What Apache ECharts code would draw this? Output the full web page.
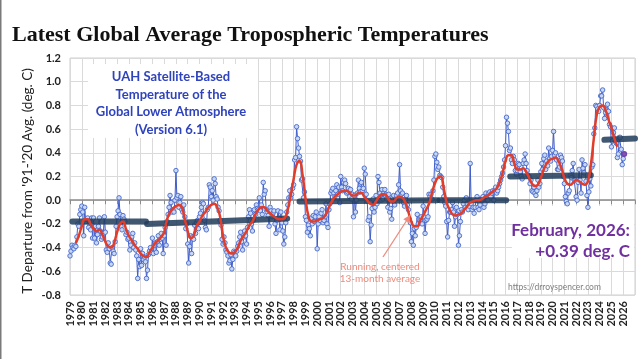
<!DOCTYPE html>
<html><head><meta charset="utf-8">
<script src="https://cdn.jsdelivr.net/npm/echarts@6/dist/echarts.min.js"></script>
<style>html,body{margin:0;padding:0;background:#fff}#c{width:640px;height:359px}</style>
</head><body><div id="c"></div>
<script>
// ---------------- DATA ----------------
const startYear = 1979;           // first month = Jan 1979
const axisFirstYear = 1979;
const axisLastYear = 2027;
const yTicks = [-0.8, 1.2, 0.2];  // min, max, step

// UAH LT monthly anomalies (deg C, vs 1991-2020)
const anom1979_1988 = [
-0.47,-0.43,-0.38,-0.40,-0.41,-0.38,-0.39,-0.31,-0.20,-0.22,-0.12,-0.08,
-0.05,-0.10,-0.30,-0.06,-0.18,-0.16,-0.15,-0.23,-0.18,-0.25,-0.15,-0.32,
-0.15,-0.32,-0.22,-0.36,-0.29,-0.22,-0.15,-0.26,-0.33,-0.31,-0.28,-0.14,
-0.27,-0.42,-0.44,-0.36,-0.41,-0.53,-0.54,-0.40,-0.43,-0.45,-0.35,-0.22,
-0.14,-0.09,0.02,-0.12,-0.22,-0.25,-0.13,-0.16,-0.18,-0.29,-0.27,-0.33,
-0.32,-0.42,-0.38,-0.31,-0.28,-0.40,-0.36,-0.42,-0.47,-0.66,-0.50,-0.56,
-0.41,-0.55,-0.45,-0.50,-0.48,-0.52,-0.66,-0.59,-0.46,-0.43,-0.40,-0.44,
-0.32,-0.45,-0.38,-0.36,-0.44,-0.35,-0.30,-0.38,-0.33,-0.28,-0.32,-0.45,
-0.30,-0.23,-0.38,-0.18,-0.12,-0.06,0.04,-0.02,-0.10,-0.08,-0.10,0.00,
0.25,0.02,0.04,-0.06,-0.02,0.03,-0.08,-0.10,-0.04,-0.14,-0.24,-0.20
];
const anom1989_1998 = [
-0.37,-0.53,-0.39,-0.30,-0.45,-0.31,-0.33,-0.21,-0.28,-0.19,-0.17,-0.24,
-0.14,-0.11,-0.06,-0.02,-0.03,-0.17,-0.23,-0.25,-0.08,-0.06,0.13,0.11,
0.03,0.08,0.00,0.18,0.14,0.03,0.01,-0.06,-0.09,-0.17,-0.21,-0.33,
-0.37,-0.31,-0.36,-0.42,-0.44,-0.47,-0.53,-0.51,-0.46,-0.58,-0.50,-0.43,
-0.44,-0.47,-0.43,-0.39,-0.36,-0.31,-0.27,-0.35,-0.42,-0.31,-0.26,-0.30,
-0.37,-0.23,-0.14,-0.08,-0.11,-0.20,-0.26,-0.17,-0.08,-0.12,-0.04,-0.07,
-0.08,0.02,-0.09,-0.04,-0.12,0.15,0.05,0.08,-0.08,-0.10,-0.13,-0.22,
-0.06,-0.09,-0.14,-0.11,-0.09,-0.20,-0.28,-0.17,-0.09,-0.15,-0.25,-0.10,
-0.19,-0.26,-0.37,-0.31,-0.19,-0.10,-0.04,0.02,0.08,0.02,0.05,0.10,
0.13,0.34,0.36,0.62,0.52,0.44,0.37,0.33,0.17,0.18,0.02,0.07
];
const anom1999_2008 = [
-0.14,-0.17,-0.27,-0.21,-0.24,-0.30,-0.15,-0.20,-0.13,-0.18,-0.14,-0.10,
-0.41,-0.20,-0.14,-0.17,-0.11,-0.08,-0.19,-0.17,-0.14,-0.03,-0.20,-0.23,
-0.08,-0.03,0.06,0.08,0.10,0.06,0.03,0.08,0.13,0.05,0.11,-0.02,
0.20,0.11,0.08,0.15,0.17,0.14,0.06,0.07,0.10,0.03,0.09,0.01,
0.05,-0.14,0.04,-0.10,0.00,0.06,0.17,0.10,0.07,0.15,0.08,0.10,
0.27,0.22,0.05,-0.01,-0.17,-0.14,-0.35,-0.21,-0.07,0.01,-0.10,-0.06,
0.04,-0.03,0.20,0.15,0.06,0.00,0.09,0.01,0.06,0.09,0.05,0.01,
-0.06,0.05,-0.10,-0.07,-0.16,0.02,0.04,-0.04,0.01,0.04,0.06,0.13,
0.30,0.08,0.05,0.06,-0.02,-0.05,0.01,0.04,-0.04,-0.08,-0.16,-0.19,
-0.35,-0.28,-0.38,-0.24,-0.30,-0.23,-0.12,-0.20,-0.16,-0.17,-0.14,-0.20
];
const anom2009_2018 = [
-0.05,-0.14,-0.28,-0.17,-0.16,-0.14,0.05,0.03,0.05,0.01,0.08,0.17,
0.37,0.39,0.32,0.26,0.28,0.21,0.20,0.19,0.11,0.03,-0.02,-0.05,
-0.18,-0.31,-0.17,-0.10,-0.10,-0.08,-0.02,-0.10,-0.22,-0.14,-0.06,-0.12,
-0.38,-0.30,-0.18,-0.08,-0.10,-0.03,0.00,-0.06,0.02,-0.03,-0.08,-0.05,
0.31,-0.03,-0.08,-0.06,-0.11,-0.06,0.00,0.03,-0.06,-0.08,-0.04,0.01,
0.00,0.03,-0.06,-0.03,0.06,0.03,0.00,0.06,0.07,0.03,0.06,0.08,
0.00,0.08,0.11,0.06,0.08,0.11,0.14,0.17,0.20,0.23,0.28,0.34,
0.46,0.70,0.65,0.58,0.42,0.44,0.34,0.31,0.37,0.34,0.25,0.22,
0.25,0.31,0.30,0.24,0.20,0.18,0.31,0.34,0.39,0.31,0.25,0.21,
0.20,0.14,0.17,0.08,0.07,0.11,0.06,0.04,0.08,0.17,0.11,0.14
];
const anom2019_2026 = [
0.24,0.31,0.26,0.35,0.38,0.26,0.33,0.29,0.44,0.35,0.33,0.37,
0.42,0.58,0.38,0.40,0.34,0.26,0.26,0.28,0.38,0.36,0.33,0.20,
0.14,0.03,-0.01,-0.03,0.06,0.08,0.21,0.19,0.25,0.31,0.17,0.17,
0.03,0.00,0.15,0.26,0.17,0.06,0.34,0.27,0.23,0.30,0.16,0.04,
-0.06,0.07,0.18,0.12,0.28,0.30,0.56,0.61,0.80,0.79,0.77,0.75,
0.80,0.88,0.88,0.93,0.78,0.69,0.74,0.76,0.81,0.75,0.64,0.62,
0.45,0.50,0.57,0.61,0.50,0.48,0.36,0.39,0.53,0.53,0.43,0.30,
0.35,0.39
];

// Running, centered 13-month average
const runningStart = 1979.5;
const runningStep = 0.25;
const runningMean = [
-0.36,-0.30,
-0.22,-0.16,-0.16,-0.20,
-0.24,-0.26,-0.25,-0.29,
-0.35,-0.39,-0.40,-0.36,
-0.27,-0.20,-0.18,-0.24,
-0.30,-0.34,-0.38,-0.41,
-0.45,-0.47,-0.48,-0.44,
-0.40,-0.36,-0.34,-0.31,
-0.27,-0.16,-0.10,-0.07,
-0.05,-0.04,-0.06,-0.16,
-0.26,-0.32,-0.30,-0.22,
-0.18,-0.13,-0.10,-0.06,
-0.04,-0.03,-0.06,-0.14,
-0.30,-0.40,-0.44,-0.45,
-0.44,-0.40,-0.34,-0.30,
-0.26,-0.21,-0.18,-0.12,
-0.08,-0.06,-0.06,-0.09,
-0.11,-0.13,-0.15,-0.16,
-0.16,-0.15,-0.08,0.04,
0.18,0.30,0.33,0.22,
0.02,-0.13,-0.18,-0.18,
-0.17,-0.16,-0.15,-0.12,
-0.06,-0.01,0.03,0.05,
0.07,0.08,0.08,0.06,
0.04,0.04,0.06,0.06,
0.03,0.00,-0.03,-0.04,
-0.01,0.03,0.05,0.05,
0.02,-0.01,-0.01,0.02,
0.03,0.02,-0.02,-0.10,
-0.18,-0.22,-0.22,-0.17,
-0.13,-0.08,-0.03,0.06,
0.14,0.19,0.20,0.10,
-0.02,-0.08,-0.12,-0.13,
-0.12,-0.11,-0.08,-0.05,
-0.02,-0.01,0.00,0.00,
0.01,0.03,0.04,0.06,
0.08,0.10,0.15,0.23,
0.33,0.38,0.38,0.31,
0.26,0.26,0.27,0.24,
0.19,0.14,0.12,0.13,
0.19,0.26,0.31,0.34,
0.35,0.36,0.33,0.27,
0.19,0.14,0.13,0.15,
0.17,0.16,0.14,0.13,
0.16,0.30,0.52,0.72,
0.79,0.80,0.76,0.68,
0.61,0.52,0.45
];

// Hand-drawn step levels (start year, end year, start value, end value)
const stepStartYear = [1979.2, 1985.55, 1998.5, 2010.4, 2016.4, 2024.4];
const stepEndYear   = [1985.45, 1997.45, 2010.2, 2016.05, 2023.25, 2027.0];
const stepStartVal  = [-0.18, -0.20, -0.01, 0.00, 0.20, 0.51];
const stepEndVal    = [-0.18, -0.155, 0.00, 0.00, 0.21, 0.52];

const titleText = 'Latest Global Average Tropospheric Temperatures';
const yAxisTitle = "T Departure from '91-'20 Avg. (deg. C)";
const boxLines = ['UAH Satellite-Based', 'Temperature of the', 'Global Lower Atmosphere', '(Version 6.1)'];
const latestLines = ['February, 2026:', '+0.39 deg. C'];
const runningLines = ['Running, centered', '13-month average'];
const urlText = 'https://drroyspencer.com';

// ---------------- BUILD ----------------
const monthly = [].concat(anom1979_1988, anom1989_1998, anom1999_2008, anom2009_2018, anom2019_2026);
const blueData = monthly.map((v, i) => [startYear + i / 12, v]);
const redData = runningMean.map((v, i) => [runningStart + i * runningStep, v]);
const lastPoint = blueData[blueData.length - 1];

const stepSeries = stepStartYear.map((s, k) => ({
  type: 'line', silent: true, symbol: 'none', z: 3, animation: false,
  data: [[s, stepStartVal[k]], [stepEndYear[k], stepEndVal[k]]],
  lineStyle: { color: 'rgba(34,60,92,0.86)', width: 6, cap: 'round' }
}));

const FONT = 'Lato, "Open Sans", sans-serif';
const graphics = [
  { type: 'rect', shape: { x: 0, y: 0, width: 1.5, height: 359 }, style: { fill: '#7a7a7a' }, z: 20 },
  { type: 'text', x: 12, y: 35, z: 20, style: { text: titleText, font: 'bold 22px "Liberation Serif", serif', fill: '#111', textVerticalAlign: 'middle' } },
  { type: 'text', x: 28, y: 181, rotation: Math.PI / 2, z: 20, style: { text: yAxisTitle, font: '13.5px ' + FONT, fill: '#222', textAlign: 'center', textVerticalAlign: 'middle' } },
  { type: 'rect', shape: { x: 88, y: 64, width: 170, height: 74 }, style: { fill: '#fff' }, z: 1 },
  { type: 'rect', shape: { x: 512, y: 206, width: 122, height: 52 }, style: { fill: '#fff' }, z: 1 },
  { type: 'line', shape: { x1: 383, y1: 257, x2: 407, y2: 220 }, style: { stroke: '#ef8a7c', lineWidth: 1.3 }, z: 20 },
  { type: 'polygon', shape: { points: [[410, 215], [409.6, 223.2], [403.3, 219.2]] }, style: { fill: '#ef8a7c' }, z: 20 },
  { type: 'text', x: 508, y: 287, z: 20, style: { text: urlText, font: '8.5px ' + FONT, fill: '#808080', textVerticalAlign: 'middle' } }
];
boxLines.forEach((t, i) => graphics.push({ type: 'text', x: 171, y: 77 + i * 17.5, z: 20,
  style: { text: t, font: 'bold 13px ' + FONT, fill: '#2f43bd', textAlign: 'center', textVerticalAlign: 'middle' } }));
latestLines.forEach((t, i) => graphics.push({ type: 'text', x: 630, y: 231 + i * 21, z: 20,
  style: { text: t, font: 'bold 17px ' + FONT, fill: '#7030a0', textAlign: 'right', textVerticalAlign: 'middle' } }));
runningLines.forEach((t, i) => graphics.push({ type: 'text', x: 380, y: 267 + i * 12, z: 20,
  style: { text: t, font: '10px ' + FONT, fill: '#ef8a7c', textAlign: 'center', textVerticalAlign: 'middle' } }));

const chart = echarts.init(document.getElementById('c'), null, { renderer: 'canvas' });
chart.setOption({
  animation: false,
  backgroundColor: '#fff',
  grid: { left: 70, right: 5, top: 58, bottom: 64, show: true, borderColor: '#cfcfcf', borderWidth: 1 },
  xAxis: [
    { type: 'value', min: axisFirstYear, max: axisLastYear, interval: 1, position: 'bottom',
      axisLine: { show: false, onZero: false }, axisTick: { show: false },
      axisLabel: { rotate: 90, margin: 6, fontSize: 11, fontWeight: 'bold', color: '#222', fontFamily: FONT,
        formatter: v => (v < axisLastYear ? String(v) : '') },
      splitLine: { show: true, lineStyle: { color: '#dadada', width: 1 } } },
    { type: 'value', min: axisFirstYear, max: axisLastYear, interval: 1, position: 'top',
      axisLine: { show: true, onZero: true, lineStyle: { color: '#8a8a8a', width: 1.5 } },
      axisTick: { show: true, inside: true, length: 4, lineStyle: { color: '#8a8a8a' } },
      axisLabel: { show: false }, splitLine: { show: false } }
  ],
  yAxis: { type: 'value', min: yTicks[0], max: yTicks[1], interval: yTicks[2],
    axisLine: { show: false }, axisTick: { show: false },
    axisLabel: { fontSize: 11, fontWeight: 'bold', color: '#222', fontFamily: FONT, margin: 9,
      formatter: v => (Math.abs(v) < 1e-9 ? '0.0' : v.toFixed(1)) },
    splitLine: { show: true, lineStyle: { color: '#dadada', width: 1 } } },
  graphic: graphics,
  series: [
    { type: 'line', data: blueData, z: 2, symbol: 'circle', symbolSize: 4.5, showAllSymbol: true,
      lineStyle: { color: '#3e5ccc', width: 1 },
      itemStyle: { color: '#c9d8f2', borderColor: '#4668cc', borderWidth: 0.9 } },
    ...stepSeries,
    { type: 'line', data: redData, z: 4, smooth: 0.5, symbol: 'none',
      lineStyle: { color: '#e23d2a', width: 2.5 } },
    { type: 'scatter', data: [lastPoint], z: 5, symbolSize: 6, itemStyle: { color: '#7030a0' } }
  ]
});
</script>
</body></html>
